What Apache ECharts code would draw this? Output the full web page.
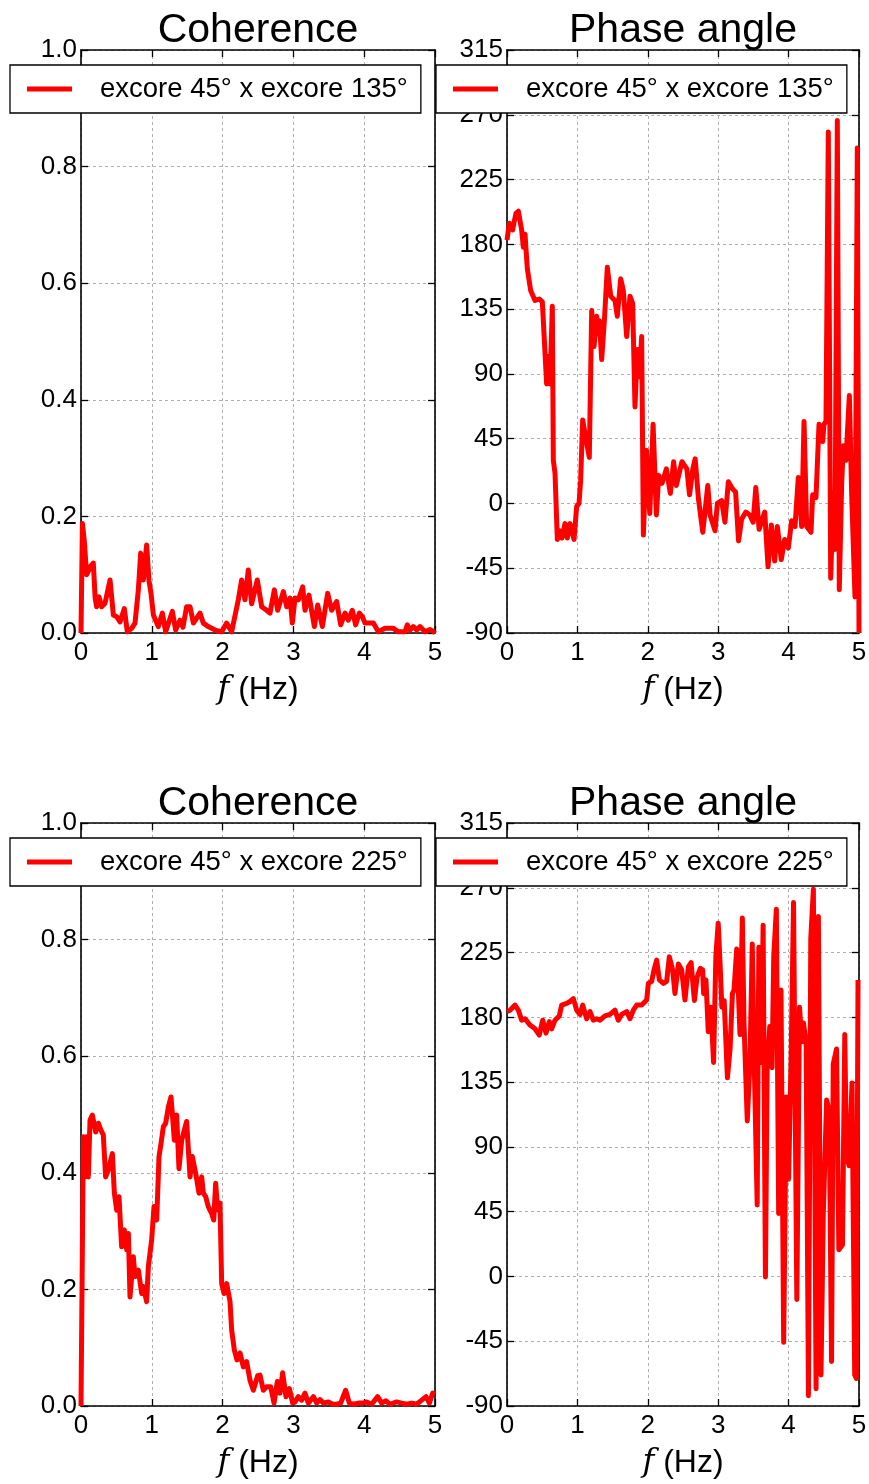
<!DOCTYPE html>
<html>
<head>
<meta charset="utf-8">
<script src="https://cdn.jsdelivr.net/npm/echarts@6/dist/echarts.min.js"></script>
<style>
html, body { margin: 0; padding: 0; background: #fff; }
#chart { width: 869px; height: 1484px; }
</style>
</head>
<body>
<div id="chart"></div>
<script>
// [f (Hz), value]
const coh135 = [[0,0],[0.02,0.188],[0.045,0.16],[0.08,0.1],[0.1,0.097],[0.14,0.115],[0.174,0.12],[0.2,0.06],[0.221,0.045],[0.254,0.062],[0.292,0.045],[0.339,0.051],[0.41,0.091],[0.457,0.031],[0.504,0.028],[0.551,0.019],[0.612,0.042],[0.654,0.002],[0.716,0.008],[0.763,0.017],[0.81,0.074],[0.843,0.137],[0.88,0.091],[0.927,0.151],[0.96,0.09],[0.989,0.068],[1.022,0.031],[1.092,0.011],[1.149,0.034],[1.196,0.002],[1.29,0.037],[1.337,0.005],[1.398,0.022],[1.44,0.01],[1.492,0.045],[1.54,0.045],[1.587,0.017],[1.681,0.034],[1.728,0.017],[1.798,0.011],[1.893,0.005],[1.987,0.002],[2.057,0.017],[2.128,0.002],[2.222,0.057],[2.269,0.091],[2.316,0.057],[2.363,0.108],[2.41,0.05],[2.49,0.091],[2.552,0.045],[2.622,0.039],[2.669,0.034],[2.731,0.074],[2.778,0.039],[2.858,0.071],[2.905,0.045],[2.952,0.06],[2.985,0.017],[3.023,0.06],[3.07,0.057],[3.131,0.079],[3.164,0.039],[3.22,0.065],[3.296,0.011],[3.343,0.048],[3.409,0.011],[3.484,0.068],[3.54,0.039],[3.611,0.054],[3.668,0.014],[3.729,0.034],[3.776,0.022],[3.832,0.039],[3.879,0.014],[3.931,0.034],[3.974,0.028],[4.011,0.017],[4.129,0.017],[4.2,0.002],[4.294,0.008],[4.412,0.008],[4.482,0.002],[4.576,0.002],[4.609,0.014],[4.647,0.005],[4.694,0.011],[4.741,0.005],[4.788,0.011],[4.859,0.002],[4.93,0.006],[4.976,0.002],[5.0,0.005]];

const phase135 = [[0,183],[0.033,194.6],[0.08,190],[0.099,195],[0.128,201.5],[0.161,203],[0.208,190],[0.232,178],[0.256,187],[0.289,163],[0.317,162],[0.336,148],[0.398,141],[0.459,142],[0.502,140],[0.563,83],[0.587,102],[0.611,83],[0.644,137],[0.658,30],[0.682,21],[0.715,-25],[0.753,-19],[0.781,-24],[0.824,-14],[0.857,-24],[0.895,-14],[0.952,-25],[0.99,-2],[1.023,0],[1.046,16],[1.075,58],[1.117,46],[1.169,32],[1.203,134],[1.236,109],[1.274,130],[1.288,118],[1.312,127],[1.345,100],[1.383,127],[1.425,164],[1.473,144],[1.534,141],[1.567,130],[1.615,156],[1.652,148],[1.7,116],[1.747,144],[1.785,139],[1.818,67],[1.851,107],[1.88,88],[1.913,116],[1.937,-22],[1.981,37],[2.028,-7],[2.075,55],[2.122,-8],[2.155,19.5],[2.202,14],[2.264,24],[2.32,7],[2.367,29],[2.405,12.5],[2.485,29],[2.555,24],[2.593,6],[2.64,24],[2.673,31],[2.72,3],[2.781,-20],[2.852,12.5],[2.885,-8],[2.955,-19],[2.988,0],[3.049,2],[3.096,-13],[3.144,15],[3.205,10],[3.247,8],[3.289,-26],[3.332,-11],[3.393,-6],[3.449,-8],[3.496,-13],[3.534,11],[3.581,-18],[3.661,-6],[3.708,-44],[3.755,-15],[3.802,-40],[3.84,-16],[3.896,-39],[3.944,-25],[3.996,-31],[4.043,-12],[4.091,-16],[4.138,18],[4.186,-16],[4.219,57],[4.257,-16],[4.318,-20],[4.342,6],[4.389,4],[4.432,55],[4.484,43],[4.503,55],[4.531,57],[4.564,258],[4.598,-52],[4.635,8],[4.659,-32],[4.692,266],[4.72,-60],[4.754,14],[4.777,40],[4.815,30],[4.863,75],[4.896,6],[4.943,-65],[4.976,247],[5.0,-90]];

const coh225 = [[0,0],[0.033,0.462],[0.056,0.393],[0.08,0.462],[0.104,0.393],[0.127,0.49],[0.16,0.499],[0.207,0.47],[0.245,0.485],[0.282,0.473],[0.315,0.465],[0.348,0.393],[0.386,0.405],[0.443,0.433],[0.471,0.365],[0.504,0.336],[0.537,0.359],[0.574,0.273],[0.612,0.302],[0.645,0.268],[0.669,0.296],[0.692,0.187],[0.739,0.256],[0.763,0.222],[0.81,0.233],[0.857,0.193],[0.88,0.205],[0.927,0.179],[0.951,0.239],[0.998,0.285],[1.031,0.342],[1.069,0.319],[1.102,0.428],[1.13,0.45],[1.163,0.479],[1.196,0.485],[1.234,0.513],[1.271,0.53],[1.29,0.502],[1.318,0.456],[1.351,0.499],[1.384,0.407],[1.422,0.456],[1.445,0.456],[1.492,0.488],[1.54,0.393],[1.572,0.428],[1.62,0.399],[1.667,0.365],[1.704,0.393],[1.728,0.365],[1.761,0.359],[1.798,0.342],[1.846,0.33],[1.874,0.319],[1.902,0.382],[1.93,0.336],[1.963,0.348],[1.987,0.21],[2.02,0.193],[2.057,0.21],[2.105,0.179],[2.128,0.13],[2.166,0.096],[2.203,0.079],[2.246,0.091],[2.293,0.067],[2.34,0.076],[2.387,0.044],[2.434,0.027],[2.495,0.052],[2.528,0.053],[2.575,0.027],[2.622,0.033],[2.679,0.033],[2.726,0.005],[2.773,0.042],[2.811,0.022],[2.848,0.057],[2.895,0.016],[2.943,0.03],[2.99,0.005],[3.023,0.007],[3.07,0.016],[3.117,0.01],[3.164,0.022],[3.211,0.005],[3.282,0.016],[3.329,0.005],[3.376,0.011],[3.423,0.005],[3.493,0.007],[3.555,0.003],[3.611,0.003],[3.668,0.005],[3.738,0.027],[3.79,0.005],[3.846,0.003],[3.917,0.005],[3.988,0.005],[4.035,0.007],[4.105,0.003],[4.19,0.016],[4.247,0.005],[4.308,0.009],[4.364,0.003],[4.458,0.007],[4.529,0.005],[4.6,0.003],[4.67,0.005],[4.741,0.003],[4.812,0.01],[4.873,0.016],[4.92,0.005],[4.967,0.022],[5.0,0.02]];

const phase225 = [[0,184],[0.043,185],[0.114,188.5],[0.161,185],[0.208,178],[0.256,179],[0.327,174.6],[0.398,172],[0.459,167.7],[0.507,178],[0.554,169],[0.601,177],[0.634,172],[0.682,178],[0.743,181],[0.777,188.5],[0.848,189.7],[0.895,191],[0.942,193],[0.99,185],[1.037,182],[1.075,188.5],[1.132,179],[1.179,184],[1.226,178],[1.274,179],[1.321,178],[1.392,181],[1.463,182],[1.534,185],[1.581,178],[1.629,182],[1.7,184],[1.747,179],[1.795,185],[1.842,188.5],[1.913,188.5],[1.984,192],[2.008,203.6],[2.055,205],[2.088,212.9],[2.126,219.8],[2.164,206],[2.221,203.6],[2.268,205],[2.306,222],[2.353,213],[2.386,196.5],[2.434,217],[2.481,213],[2.528,192],[2.576,215],[2.615,218],[2.662,191.7],[2.7,208],[2.746,214],[2.779,213],[2.793,196.5],[2.826,206],[2.859,170],[2.897,187],[2.934,148.7],[2.967,222.7],[3.0,245.4],[3.028,215.6],[3.052,187],[3.085,191.7],[3.131,138],[3.169,158.3],[3.202,196.5],[3.225,199],[3.263,227.5],[3.282,227.5],[3.31,168],[3.343,249],[3.366,177],[3.413,108],[3.451,148.7],[3.484,231],[3.516,139],[3.554,49.7],[3.577,228.7],[3.61,148.7],[3.638,244],[3.671,-0.4],[3.695,144],[3.732,173.6],[3.765,145],[3.789,222.7],[3.826,255],[3.859,43.7],[3.892,199],[3.93,-45.8],[3.967,124.6],[4.0,67.6],[4.038,158],[4.07,259.7],[4.117,-16],[4.155,187],[4.188,163],[4.211,176],[4.249,163],[4.282,-82.8],[4.315,234.7],[4.352,269],[4.39,-78],[4.423,250],[4.46,-68.5],[4.493,43.7],[4.54,122.5],[4.577,115],[4.61,-59],[4.634,147.5],[4.681,158],[4.714,18.6],[4.765,22],[4.798,168],[4.822,84.3],[4.859,77],[4.901,134.4],[4.939,-68.5],[4.962,-70.9],[4.986,206]];

const name135 = 'excore 45° x excore 135°';
const name225 = 'excore 45° x excore 225°';
const titles = ['Coherence', 'Phase angle'];

const font = 'Liberation Sans';

const panels = [
  { left: 81, top: 50, width: 354, title: titles[0], data: coh135, name: name135, coh: true },
  { left: 507, top: 50, width: 352, title: titles[1], data: phase135, name: name135, coh: false },
  { left: 81, top: 823, width: 354, title: titles[0], data: coh225, name: name225, coh: true },
  { left: 507, top: 823, width: 352, title: titles[1], data: phase225, name: name225, coh: false },
]
const H = 583

const tick = { show: true, inside: true, length: 7, lineStyle: { color: '#000', width: 1.3 } }
// frame is drawn by the four axis lines so it sits above the grid lines
const frame = { show: true, onZero: false, lineStyle: { color: '#000', width: 1.6 } }
const split = { show: true, lineStyle: { color: '#b0b0b0', type: [3, 3], width: 1 } }
const grid = [], xAxis = [], yAxis = [], series = [], legend = [], graphic = []

panels.forEach((p, i) => {
  grid.push({
    left: p.left, top: p.top, width: p.width, height: H,
    show: false, outerBoundsMode: 'none',
  })
  const yr = p.coh ? { min: 0, max: 1, interval: 0.2 } : { min: -90, max: 315, interval: 45 }
  // bottom + top x axes
  xAxis.push({
    type: 'value', gridIndex: i, min: 0, max: 5, interval: 1, position: 'bottom',
    axisLine: frame, axisTick: tick,
    axisLabel: { color: '#000', fontFamily: font, fontSize: 26, margin: 7 },
    splitLine: split,
    name: '{i|f} (Hz)', nameLocation: 'middle', nameGap: 41,
    nameTextStyle: {
      color: '#000', fontFamily: font, fontSize: 32,
      rich: { i: { fontFamily: 'DejaVu Serif', fontStyle: 'italic', fontSize: 32, color: '#000' } },
    },
  })
  xAxis.push({
    type: 'value', gridIndex: i, min: 0, max: 5, interval: 1, position: 'top',
    axisLine: frame, axisTick: tick, axisLabel: { show: false }, splitLine: { show: false },
  })
  yAxis.push({
    type: 'value', gridIndex: i, ...yr, position: 'left',
    axisLine: frame, axisTick: tick,
    axisLabel: {
      color: '#000', fontFamily: font, fontSize: 26, margin: 4,
      formatter: p.coh ? (v) => v.toFixed(1) : (v) => String(v),
    },
    splitLine: split,
  })
  yAxis.push({
    type: 'value', gridIndex: i, ...yr, position: 'right',
    axisLine: frame, axisTick: tick, axisLabel: { show: false }, splitLine: { show: false },
  })
  series.push({
    type: 'line', name: p.name, xAxisIndex: 2 * i, yAxisIndex: 2 * i,
    data: p.data, showSymbol: false, symbol: 'none', animation: false,
    lineStyle: { color: '#ff0000', width: 5, join: 'round' }, itemStyle: { color: '#ff0000' },
  })
  legend.push({
    data: [p.name], left: p.left - 71, top: p.top + 15, selectedMode: false,
    backgroundColor: '#fff', borderColor: '#000', borderWidth: 1.3, borderRadius: 0,
    padding: [10, 13, 10, 17],
    icon: 'rect', itemWidth: 45, itemHeight: 5,
    textStyle: { color: '#000', fontFamily: font, fontSize: 27.5, padding: [0, 0, 0, 23] },
  })
  graphic.push({
    type: 'text', x: p.left + p.width / 2, y: p.top - 19,
    style: { text: p.title, fill: '#000', font: '41px "Liberation Sans"', align: 'center', verticalAlign: 'middle' },
  })
})

const chart = echarts.init(document.getElementById('chart'), null, { renderer: 'canvas' })
chart.setOption({
  animation: false,
  backgroundColor: '#fff',
  grid, xAxis, yAxis, series, legend, graphic,
})
</script>
</body>
</html>
